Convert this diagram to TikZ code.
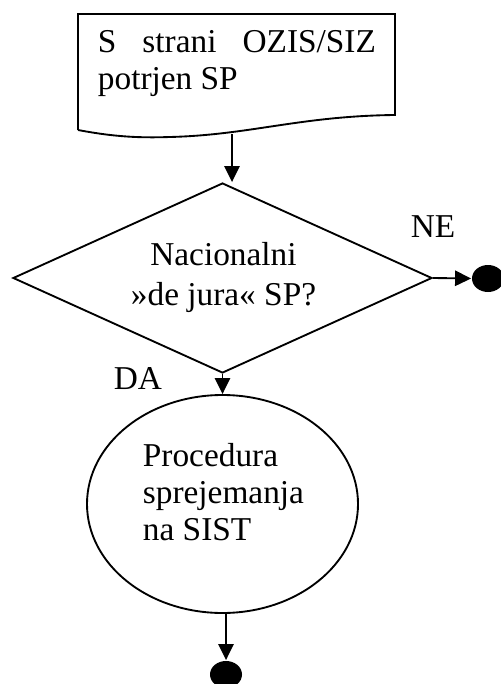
\documentclass[tikz,border=0pt]{standalone}
\usepackage{fontspec}
\setmainfont{Liberation Serif}
\usetikzlibrary{shapes.geometric,arrows.meta}
\begin{document}
\begin{tikzpicture}[x=0.75pt,y=-0.75pt,
  line width=1.4pt,
  txt/.style={font=\fontsize{25}{27.75}\selectfont, inner sep=0pt},
  arr/.style={-{Triangle[length=12pt,width=11.5pt]}},
  enddot/.style={ellipse, fill=black, draw=none, minimum width=24pt, minimum height=20.25pt, inner sep=0pt}]
\useasboundingbox (0,0) rectangle (500,684);
% document shape
\coordinate (dtl) at (78,14);
\coordinate (dtr) at (395,14);
\coordinate (dbr) at (395,115);
\coordinate (dbl) at (78,130);
\coordinate (docb) at (232,134);
\draw (dbl) -- (dtl) -- (dtr) -- (dbr)
  .. controls (300,116) and (250,135) .. (170,137)
  .. controls (140,138) and (115,137) .. (dbl);
\node[txt, anchor=base west, text width=208.5pt, align=justify] (doctext) at (97,53)
  {S strani OZIS/SIZ\linebreak potrjen SP};
% decision
\node[diamond, draw, minimum width=314.25pt, minimum height=142.5pt, inner sep=0pt] (dia) at (222.5,278) {};
\node[txt, font=\fontsize{25}{30}\selectfont, anchor=base, align=center] (diatext) at (223.5,305) {Nacionalni\\»de jura« SP?};
% process ellipse
\node[ellipse, draw, minimum width=203.25pt, minimum height=163.5pt, inner sep=0pt] (ell) at (222.5,504) {};
\node[txt, anchor=base west, align=left] (elltext) at (142,540) {Procedura\\sprejemanja\\na SIST};
% end dots
\node[enddot] (ne) at (488,278.5) {};
\node[enddot] (fin) at (226,674.5) {};
% labels
\node[txt, anchor=base] (nelab) at (433,237) {NE};
\node[txt, anchor=base] (dalab) at (138,389) {DA};
% connectors
\draw[arr] (docb) -- (docb |- dia.north);
\draw[arr] (dia.east) -- (ne.west);
\draw[arr] (dia.south) -- (ell.north);
\draw[arr] (fin |- ell.south) -- (fin.north);
\end{tikzpicture}
\end{document}
